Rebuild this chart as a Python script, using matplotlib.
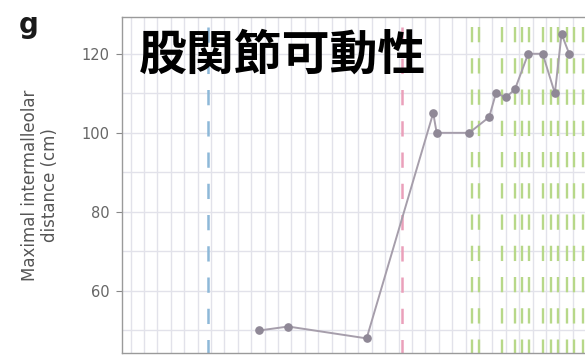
import numpy as np
import matplotlib
matplotlib.use("Agg")
import matplotlib.pyplot as plt

plt.rcParams['lines.scale_dashes'] = False

# measurement visits (x in grid units) and maximal intermalleolar distance (cm)
visit_x = [9.60, 11.76, 17.61, 22.58, 22.84, 25.27, 26.76, 27.26, 28.01,
           28.68, 29.67, 30.75, 31.66, 32.16, 32.73]
distance_cm = [50, 51, 48, 105, 100, 100, 104, 110, 109, 111, 120, 120,
               110, 125, 120]

# event markers
blue_event = [5.79]
pink_event = [20.27]
green_events = [25.45, 26.01, 27.69, 28.68, 29.18, 29.75, 30.79, 31.34,
                31.91, 32.54, 33.08, 33.78]

y_ticks = [60, 80, 100, 120]
title_text = "股関節可動性"
panel_label = "g"
y_label = "Maximal intermalleolar\ndistance (cm)"

fig = plt.figure(figsize=(5.85, 3.56), dpi=100)
ax = fig.add_axes([0.208, 0.0084, 0.8005, 0.9438])

x_lo, x_hi = -0.67, 34.28
y_lo, y_hi = 44.3, 129.3
ax.set_xlim(x_lo, x_hi)
ax.set_ylim(y_lo, y_hi)

# light grid, one line per unit in x and every 10 cm in y
for gx in range(0, 35):
    ax.axvline(gx, color='#e2e2ea', lw=1.0, zorder=0)
for gy in range(50, 130, 10):
    ax.axhline(gy, color='#e2e2ea', lw=1.0, zorder=0)

line_top = 126.8
dash = (0, (11, 11.5))
for xv in blue_event:
    ax.plot([xv, xv], [line_top, y_lo], color='#8db8d8', lw=1.8,
            linestyle=dash, zorder=1)
for xv in pink_event:
    ax.plot([xv, xv], [line_top, y_lo], color='#eaa0ba', lw=1.8,
            linestyle=dash, zorder=1)
for xv in green_events:
    ax.plot([xv, xv], [line_top, y_lo], color='#b7d889', lw=1.7,
            linestyle=dash, zorder=1)

ax.plot(visit_x, distance_cm, color='#a69eab', lw=1.4, marker='o',
        markersize=5.2, markerfacecolor='#8f8896', markeredgecolor='#8f8896',
        zorder=3)

ax.set_yticks(y_ticks)
ax.set_xticks([])
ax.tick_params(axis='y', length=4, width=0.8, color='#888888',
               labelsize=10.5, labelcolor='#666666', pad=5)
for side in ['left', 'top', 'bottom']:
    ax.spines[side].set_color('#9a9a9a')
    ax.spines[side].set_linewidth(1.0)
ax.spines['right'].set_visible(False)

fig.text(40 / 585, 1 - 185 / 356, y_label, rotation=90, ha='center',
         va='center', fontsize=12, color='#555555', linespacing=1.2)
fig.text(29 / 585, 1 - 25 / 356, panel_label, ha='center', va='center',
         fontsize=20, fontweight='heavy', color='#1a1a1a')
fig.text(283 / 585, 1 - 55 / 356, title_text, ha='center', va='center',
         fontsize=34.5, fontweight='bold', color='black',
         family=['Noto Sans CJK JP', 'DejaVu Sans'], zorder=5)

fig.savefig('out.png', dpi=100)
